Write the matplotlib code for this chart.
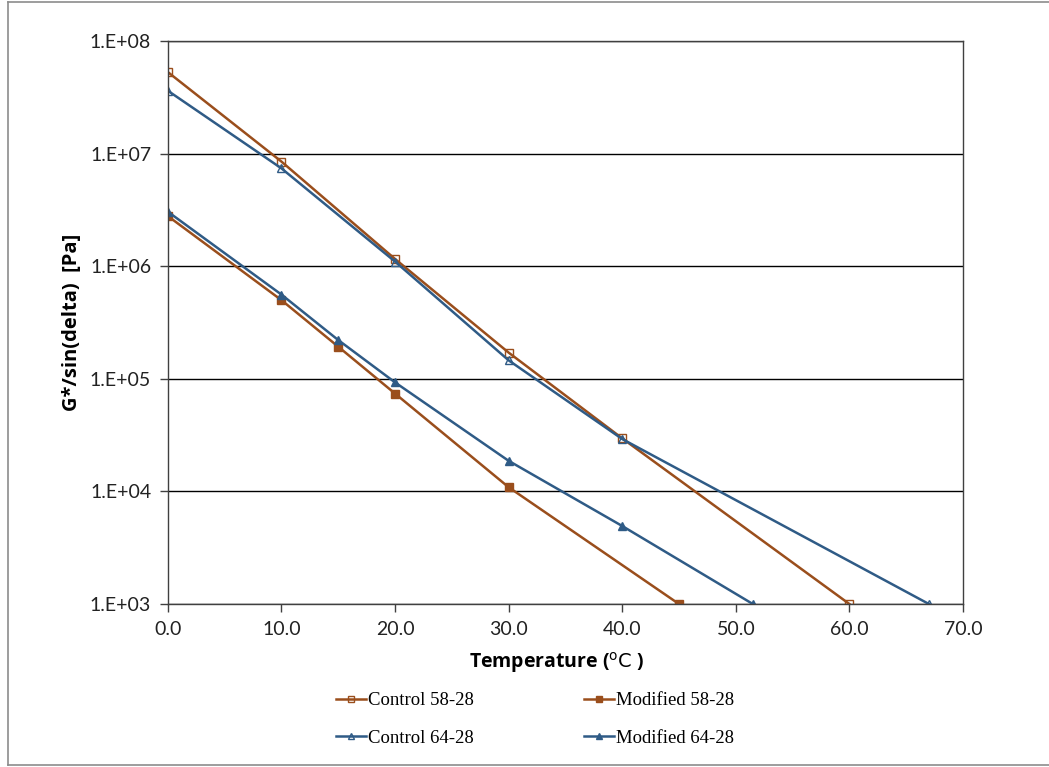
import matplotlib.pyplot as plt
import matplotlib.lines as mlines

# temperatures (C) and G*/sin(delta) values (Pa)
temp_c58 = [0, 10, 20, 30, 40, 60]
gs_c58 = [5.3e7, 8.5e6, 1.16e6, 1.71e5, 2.96e4, 1.0e3]

temp_m58 = [0, 10, 15, 20, 30, 45]
gs_m58 = [2.79e6, 5.0e5, 1.93e5, 7.4e4, 1.09e4, 1.0e3]

temp_c64 = [0, 10, 20, 30, 40, 67]
gs_c64 = [3.62e7, 7.4e6, 1.1e6, 1.46e5, 2.92e4, 1.0e3]

temp_m64 = [0, 10, 15, 20, 30, 40, 51.5]
gs_m64 = [3.05e6, 5.6e5, 2.21e5, 9.3e4, 1.87e4, 4.93e3, 1.0e3]

yticks = [1e3, 1e4, 1e5, 1e6, 1e7, 1e8]
ytick_labels = ['1.E+03', '1.E+04', '1.E+05', '1.E+06', '1.E+07', '1.E+08']
xticks = [0, 10, 20, 30, 40, 50, 60, 70]

brown = '#9A4E1C'
blue = '#2F5B86'

fig = plt.figure(figsize=(10.49, 7.67), dpi=100)
ax = fig.add_axes([0.160, 0.2125, 0.758, 0.734])

l_c58, = ax.plot(temp_c58, gs_c58, color=brown, lw=1.8, marker='s', ms=6,
                 mfc='none', mec=brown, mew=1, label='Control 58-28')
l_m58, = ax.plot(temp_m58, gs_m58, color=brown, lw=1.8, marker='s', ms=6,
                 mfc=brown, mec=brown, label='Modified 58-28')
l_c64, = ax.plot(temp_c64, gs_c64, color=blue, lw=1.8, marker='^', ms=6,
                 mfc='none', mec=blue, mew=1, label='Control 64-28')
l_m64, = ax.plot(temp_m64, gs_m64, color=blue, lw=1.8, marker='^', ms=6,
                 mfc=blue, mec=blue, label='Modified 64-28')

ax.set_yscale('log')
ax.set_ylim(1e3, 1e8)
ax.set_xlim(0, 70)
ax.set_yticks(yticks)
ax.set_yticklabels(ytick_labels)
ax.minorticks_off()
ax.set_xticks(xticks)
ax.set_xticklabels(['%.1f' % t for t in xticks])
ax.tick_params(axis='both', direction='out', length=6, width=1, color='#404040',
               labelsize=14, labelcolor='#222222')
ax.tick_params(axis='y', pad=6)
ax.tick_params(axis='x', pad=6)
for lab in ax.get_xticklabels() + ax.get_yticklabels():
    lab.set_family('Lato')

ax.grid(axis='y', color='black', lw=1)
ax.set_axisbelow(True)
for s in ax.spines.values():
    s.set_color('#404040')
    s.set_linewidth(1)

ax.set_ylabel('G*/sin(delta)  [Pa]', fontsize=14.5, fontweight='bold',
              family='Open Sans', labelpad=6)
fig.text(0.531, 0.1356, r'Temperature ($^{\rm o}\rm C$ )', fontsize=14, fontweight='bold',
         family='Open Sans', ha='center', va='center')

handles = [l_c58, l_c64, l_m58, l_m64]
labels = [h.get_label() for h in handles]
leg = fig.legend(handles, labels, ncol=2, loc='center', bbox_to_anchor=(0.510, 0.062),
                 frameon=False, prop={'family': 'Liberation Serif', 'size': 13.5},
                 handlelength=1.6, handletextpad=0.1, columnspacing=5.9,
                 labelspacing=1.1, markerscale=0.8)

# thin grey chart-area border
fig.add_artist(mlines.Line2D([0.0076, 0.0076], [0.002, 0.997], color='#8c8c8c', lw=1.2))
fig.add_artist(mlines.Line2D([0.0076, 1.0], [0.997, 0.997], color='#8c8c8c', lw=1.2))
fig.add_artist(mlines.Line2D([0.0076, 1.0], [0.002, 0.002], color='#8c8c8c', lw=1.2))

fig.savefig('out.png', dpi=100)
